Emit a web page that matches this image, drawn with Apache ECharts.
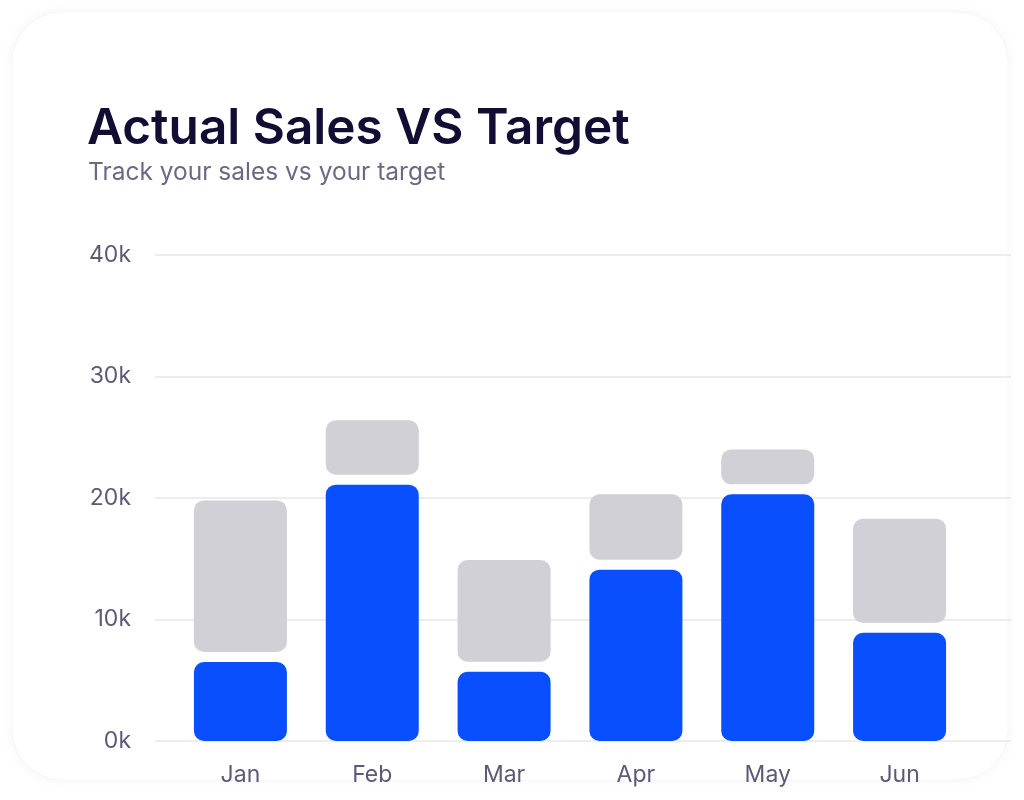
<!DOCTYPE html>
<html>
<head>
<meta charset="utf-8">
<title>Actual Sales VS Target</title>
<script src="https://cdn.jsdelivr.net/npm/echarts@6/dist/echarts.min.js"></script>
<style>
  html, body { margin: 0; padding: 0; background: #ffffff; }
  #main { width: 1024px; height: 800px; }
</style>
</head>
<body>
<div id="main"></div>
<script>
// months on the x axis
const months = ['Jan', 'Feb', 'Mar', 'Apr', 'May', 'Jun'];
// actual sales (blue)
const actual = [6500, 21100, 5700, 14100, 20300, 8900];
// sales target (grey cap ends here)
const target = [19800, 26400, 14900, 20300, 24000, 18300];
// y axis ticks
const yTicks = [0, 10000, 20000, 30000, 40000];

const BAR_W = 93;
const GAP = 10;
const FONT = 'Inter, "Noto Sans", sans-serif';

const chart = echarts.init(document.getElementById('main'), null, { renderer: 'canvas' });

const option = {
  animation: false,
  textStyle: { fontFamily: FONT },
  graphic: [{
    type: 'rect',
    z: -10,
    shape: { x: 12, y: 12, width: 996, height: 768, r: 50 },
    style: {
      fill: '#ffffff',
      stroke: '#f5f5f9',
      lineWidth: 1,
      shadowBlur: 14,
      shadowColor: 'rgba(40, 40, 110, 0.045)'
    }
  }],
  title: [{
    text: 'Actual Sales VS Target',
    left: 87,
    top: 100,
    padding: 0,
    textStyle: { fontFamily: FONT, fontSize: 49.5, fontWeight: 600, color: '#120e33', lineHeight: 58 }
  }, {
    text: 'Track your sales vs your target',
    left: 88,
    top: 159,
    padding: 0,
    textStyle: { fontFamily: FONT, fontSize: 24.5, fontWeight: 400, color: '#6c6983', lineHeight: 28 }
  }],
  grid: [
    // grid for the horizontal guide lines and y labels
    { left: 155, right: 13, top: 255, bottom: 59 },
    // grid for the bars
    { left: 174.5, right: 58.5, top: 255, bottom: 59 }
  ],
  xAxis: [{
    gridIndex: 0,
    type: 'category',
    data: months,
    show: false
  }, {
    gridIndex: 1,
    type: 'category',
    data: months,
    axisLine: { show: false },
    axisTick: { show: false },
    axisLabel: { margin: 23, fontSize: 23, color: '#5e5a76', fontFamily: FONT }
  }],
  yAxis: [{
    gridIndex: 0,
    type: 'value',
    min: yTicks[0],
    max: yTicks[yTicks.length - 1],
    interval: 10000,
    axisLine: { show: false },
    axisTick: { show: false },
    splitLine: { lineStyle: { color: '#ededf0', width: 2 } },
    axisLabel: {
      margin: 24,
      fontSize: 23,
      color: '#5e5a76',
      fontFamily: FONT,
      formatter: v => (v / 1000) + 'k'
    }
  }, {
    gridIndex: 1,
    type: 'value',
    min: yTicks[0],
    max: yTicks[yTicks.length - 1],
    interval: 10000,
    show: false
  }],
  series: [{
    name: 'Actual',
    type: 'bar',
    xAxisIndex: 1,
    yAxisIndex: 1,
    barWidth: BAR_W,
    data: actual,
    itemStyle: { color: '#0a4ffe', borderRadius: 10 },
    z: 3
  }, {
    name: 'Target',
    type: 'custom',
    xAxisIndex: 1,
    yAxisIndex: 1,
    data: months.map((m, i) => [i, actual[i], target[i]]),
    encode: { x: 0, y: 2 },
    renderItem: function (params, api) {
      const top = api.coord([api.value(0), api.value(2)]);
      const bot = api.coord([api.value(0), api.value(1)]);
      return {
        type: 'rect',
        shape: {
          x: top[0] - BAR_W / 2,
          y: top[1],
          width: BAR_W,
          height: bot[1] - GAP - top[1],
          r: 10
        },
        style: { fill: '#d0d0d6' }
      };
    },
    z: 3
  }]
};

chart.setOption(option);
</script>
</body>
</html>
